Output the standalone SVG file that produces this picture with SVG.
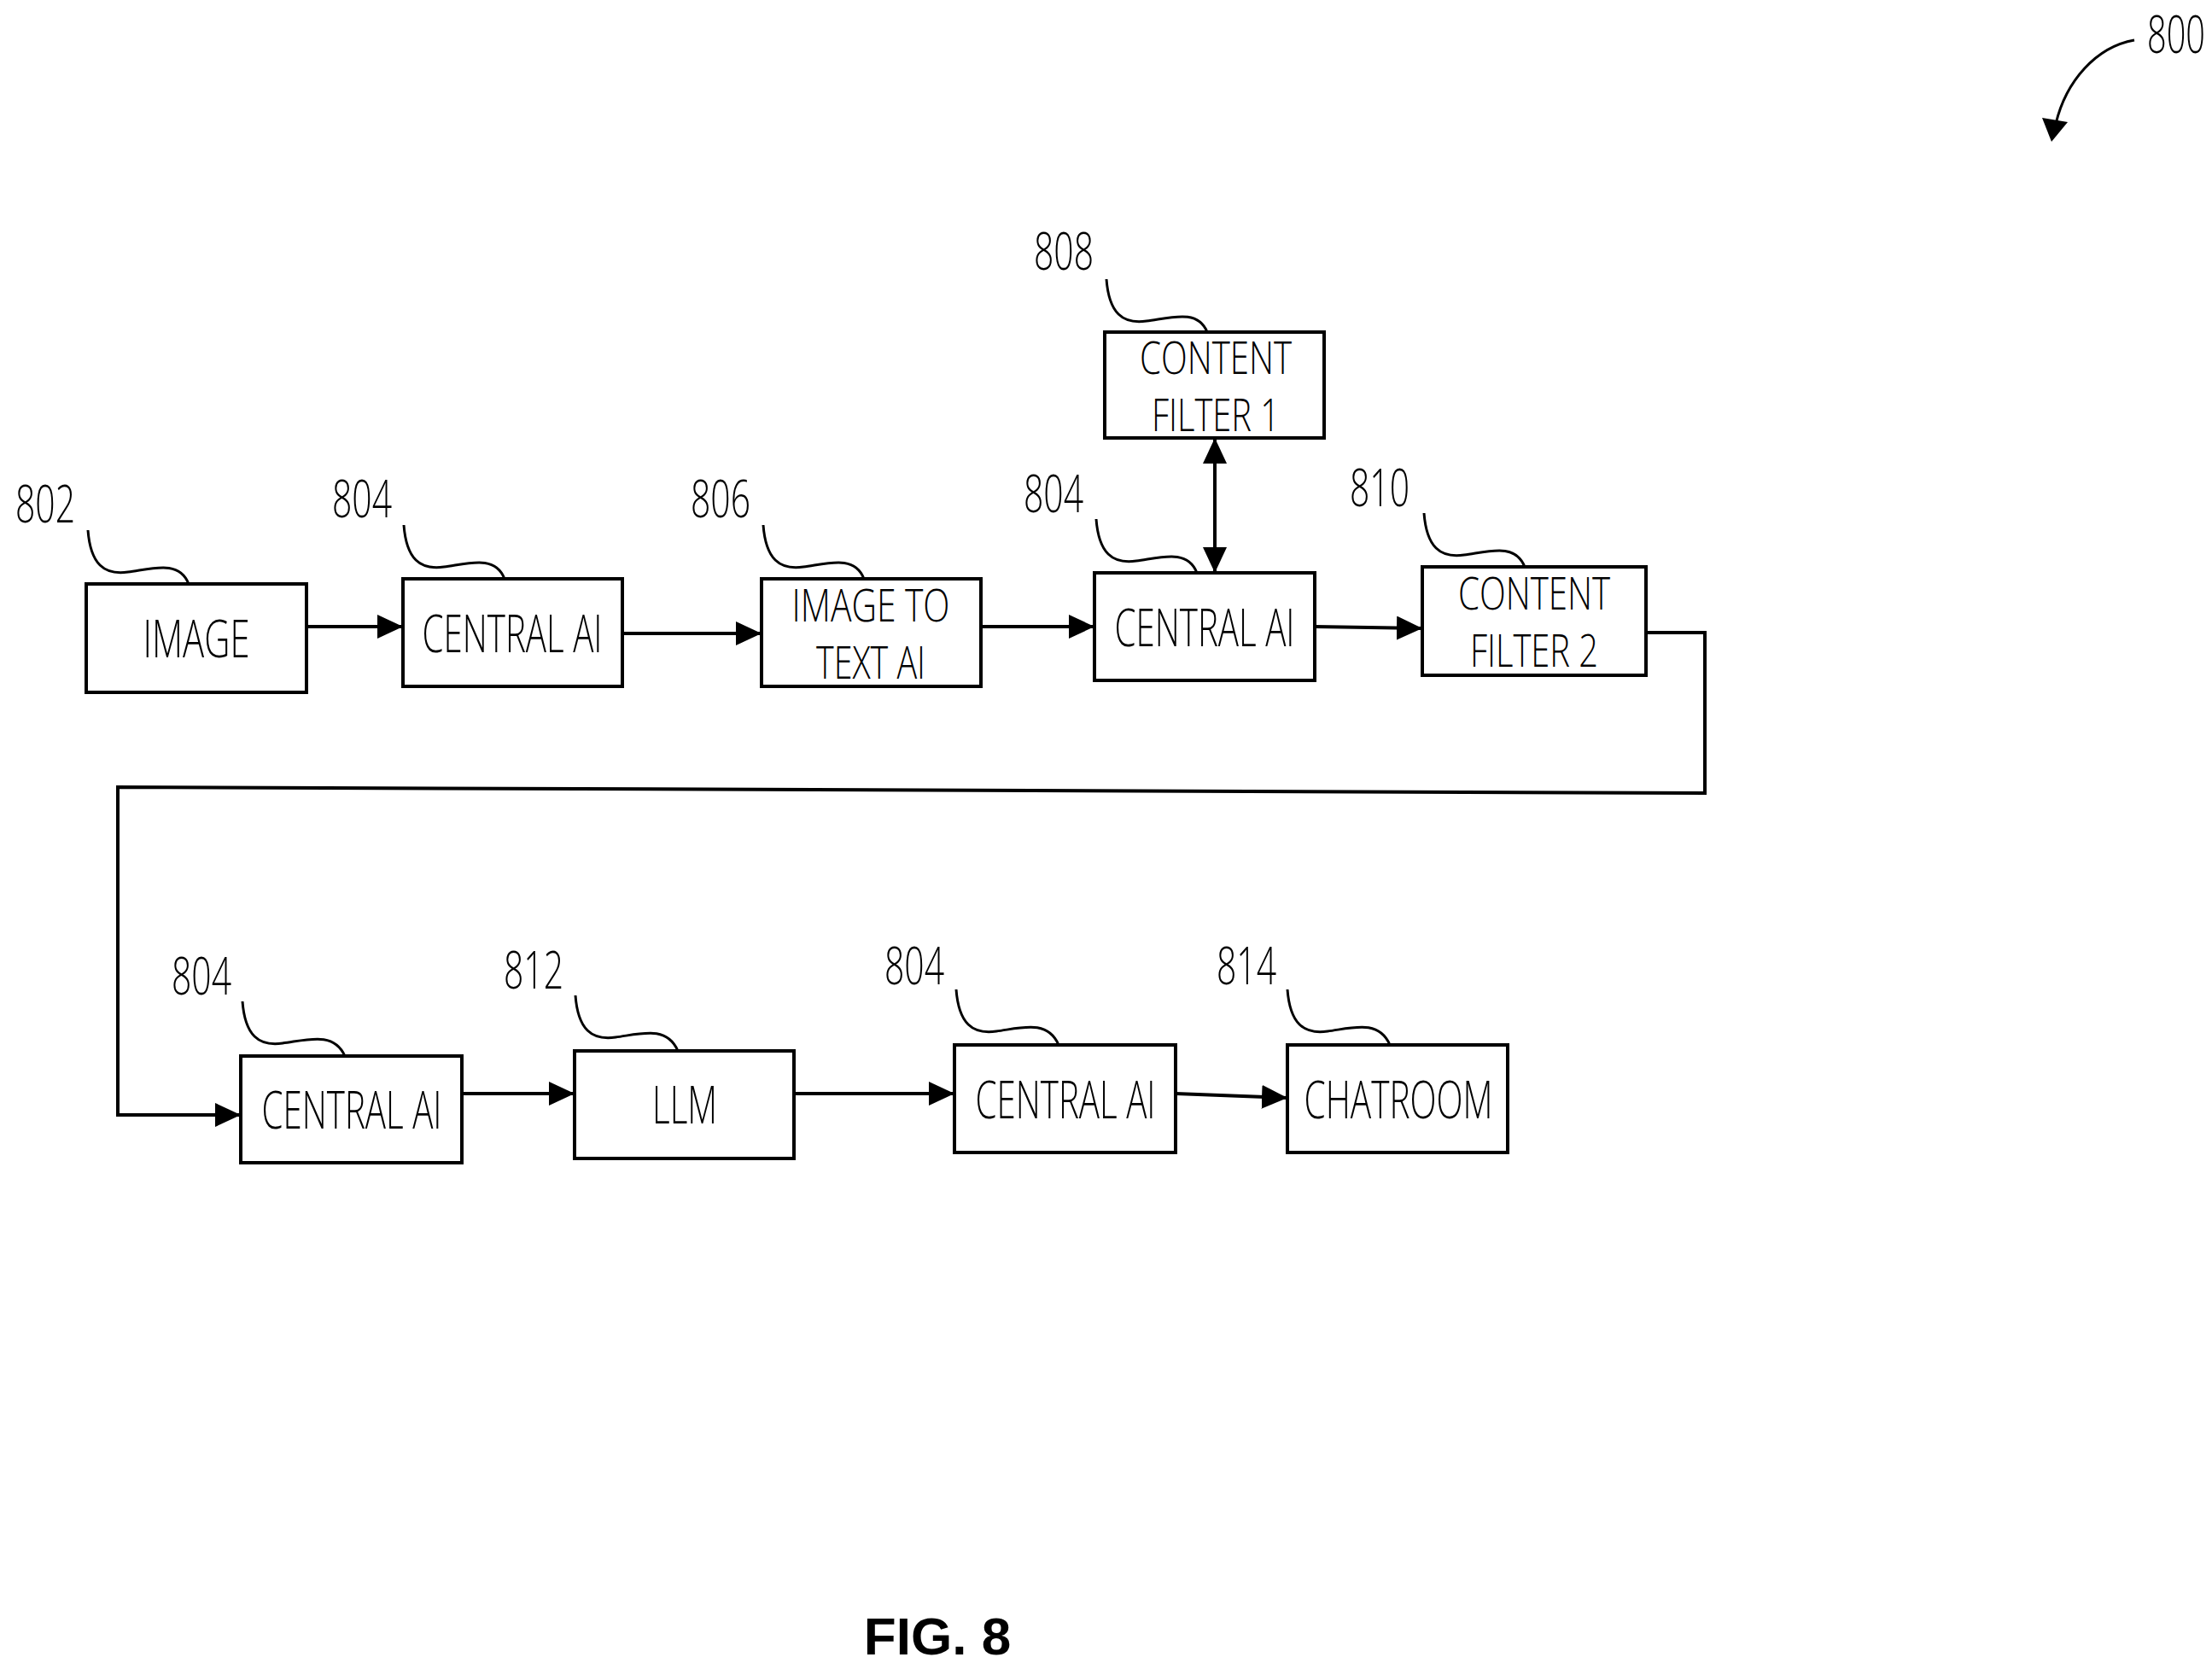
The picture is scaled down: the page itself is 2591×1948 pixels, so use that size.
<svg xmlns="http://www.w3.org/2000/svg" width="2591" height="1948" viewBox="0 0 2591 1948">
<style>
.b{fill:#fff;stroke:#000;stroke-width:4}
.t{font-family:"Open Sans","DejaVu Sans",sans-serif;font-weight:300;font-size:60px;text-anchor:middle}
.t2{font-family:"Open Sans","DejaVu Sans",sans-serif;font-weight:300;font-size:54px;text-anchor:middle}
.n{font-family:"Open Sans","DejaVu Sans",sans-serif;font-weight:300;font-size:60px}
.l{fill:none;stroke:#000;stroke-width:3}
.c{fill:none;stroke:#000;stroke-width:4}
</style>
<defs>
<marker id="a" viewBox="0 0 10 10" refX="10" refY="5" markerWidth="30" markerHeight="28" orient="auto-start-reverse" markerUnits="userSpaceOnUse" preserveAspectRatio="none"><path d="M0,0 L10,5 L0,10 Z"/></marker>
</defs>
<rect width="2591" height="1948" fill="#fff"/>
<g id="connectors">
<path class="c" d="M359,734 H472" marker-end="url(#a)"/>
<path class="c" d="M729,742 H892" marker-end="url(#a)"/>
<path class="c" d="M1149,734 H1282" marker-end="url(#a)"/>
<path class="c" d="M1540,734 L1666,736" marker-end="url(#a)"/>
<path class="c" d="M1423,513 V671" marker-start="url(#a)" marker-end="url(#a)"/>
<path class="c" d="M1928,741 H1997 V929 L138,922 V1306 H282" marker-end="url(#a)"/>
<path class="c" d="M541,1281 H673" marker-end="url(#a)"/>
<path class="c" d="M930,1281 H1118" marker-end="url(#a)"/>
<path class="c" d="M1377,1281 L1508,1286" marker-end="url(#a)"/>
</g>
<g id="n802"><rect class="b" x="101" y="684" width="258" height="127"/><text class="t" x="230" y="770" textLength="125" lengthAdjust="spacingAndGlyphs">IMAGE</text></g>
<g id="n804a"><rect class="b" x="472" y="678" width="257" height="126"/><text class="t" x="600" y="764" textLength="211" lengthAdjust="spacingAndGlyphs">CENTRAL AI</text></g>
<g id="n806"><rect class="b" x="892" y="678" width="257" height="126"/><text class="t2" x="1020" y="728" textLength="185" lengthAdjust="spacingAndGlyphs">IMAGE TO</text><text class="t2" x="1020" y="795" textLength="128" lengthAdjust="spacingAndGlyphs">TEXT AI</text></g>
<g id="n804b"><rect class="b" x="1282" y="671" width="258" height="126"/><text class="t" x="1411" y="757" textLength="211" lengthAdjust="spacingAndGlyphs">CENTRAL AI</text></g>
<g id="n808"><rect class="b" x="1294" y="389" width="257" height="124"/><text class="t2" x="1424" y="438" textLength="178" lengthAdjust="spacingAndGlyphs">CONTENT</text><text class="t2" x="1424" y="505" textLength="150" lengthAdjust="spacingAndGlyphs">FILTER 1</text></g>
<g id="n810"><rect class="b" x="1666" y="664" width="262" height="127"/><text class="t2" x="1797" y="714" textLength="178" lengthAdjust="spacingAndGlyphs">CONTENT</text><text class="t2" x="1797" y="781" textLength="150" lengthAdjust="spacingAndGlyphs">FILTER 2</text></g>
<g id="n804c"><rect class="b" x="282" y="1237" width="259" height="125"/><text class="t" x="412" y="1322" textLength="211" lengthAdjust="spacingAndGlyphs">CENTRAL AI</text></g>
<g id="n812"><rect class="b" x="673" y="1231" width="257" height="126"/><text class="t" x="802" y="1316" textLength="76" lengthAdjust="spacingAndGlyphs">LLM</text></g>
<g id="n804d"><rect class="b" x="1118" y="1224" width="259" height="126"/><text class="t" x="1248" y="1310" textLength="211" lengthAdjust="spacingAndGlyphs">CENTRAL AI</text></g>
<g id="n814"><rect class="b" x="1508" y="1224" width="258" height="126"/><text class="t" x="1638" y="1310" textLength="221" lengthAdjust="spacingAndGlyphs">CHATROOM</text></g>
<g id="labels">
<text class="n" x="18" y="612" textLength="70" lengthAdjust="spacingAndGlyphs">802</text>
<text class="n" x="389" y="606" textLength="70" lengthAdjust="spacingAndGlyphs">804</text>
<text class="n" x="809" y="606" textLength="70" lengthAdjust="spacingAndGlyphs">806</text>
<text class="n" x="1199" y="600" textLength="70" lengthAdjust="spacingAndGlyphs">804</text>
<text class="n" x="1211" y="316" textLength="70" lengthAdjust="spacingAndGlyphs">808</text>
<text class="n" x="1581" y="593" textLength="70" lengthAdjust="spacingAndGlyphs">810</text>
<text class="n" x="201" y="1165" textLength="70" lengthAdjust="spacingAndGlyphs">804</text>
<text class="n" x="590" y="1158" textLength="70" lengthAdjust="spacingAndGlyphs">812</text>
<text class="n" x="1036" y="1153" textLength="70" lengthAdjust="spacingAndGlyphs">804</text>
<text class="n" x="1425" y="1153" textLength="70" lengthAdjust="spacingAndGlyphs">814</text>
<text class="n" x="2515" y="62" textLength="68" lengthAdjust="spacingAndGlyphs">800</text>
<text x="1098" y="1938" style="font-family:'Liberation Sans',Arial,sans-serif;font-weight:bold;font-size:62px;text-anchor:middle">FIG. 8</text>
</g>
<g id="leaders">
<path class="l" d="M103,621 C106,661 122,674 150,670 C180,666 210,656 221,684"/>
<path class="l" d="M473,615 C476,655 492,668 520,664 C550,660 580,650 591,678"/>
<path class="l" d="M894,615 C897,655 913,668 941,664 C971,660 1001,650 1012,678"/>
<path class="l" d="M1284,608 C1287,648 1303,661 1331,657 C1361,653 1391,643 1402,671"/>
<path class="l" d="M1296,327 C1299,367 1315,380 1343,376 C1373,372 1403,362 1414,389"/>
<path class="l" d="M1668,601 C1671,641 1687,654 1715,650 C1745,646 1775,636 1786,664"/>
<path class="l" d="M284,1173 C287,1213 303,1226 331,1222 C361,1218 391,1208 404,1237"/>
<path class="l" d="M674,1166 C677,1206 693,1219 721,1215 C751,1211 781,1201 794,1231"/>
<path class="l" d="M1120,1159 C1123,1199 1139,1212 1167,1208 C1197,1204 1227,1194 1240,1224"/>
<path class="l" d="M1508,1159 C1511,1199 1527,1212 1555,1208 C1585,1204 1615,1194 1628,1224"/>
<path class="l" d="M2500,47 C2455,55 2420,95 2408,145"/>
<path d="M2392,138 L2403,166 L2422,143 Z"/>
</g>
</svg>
